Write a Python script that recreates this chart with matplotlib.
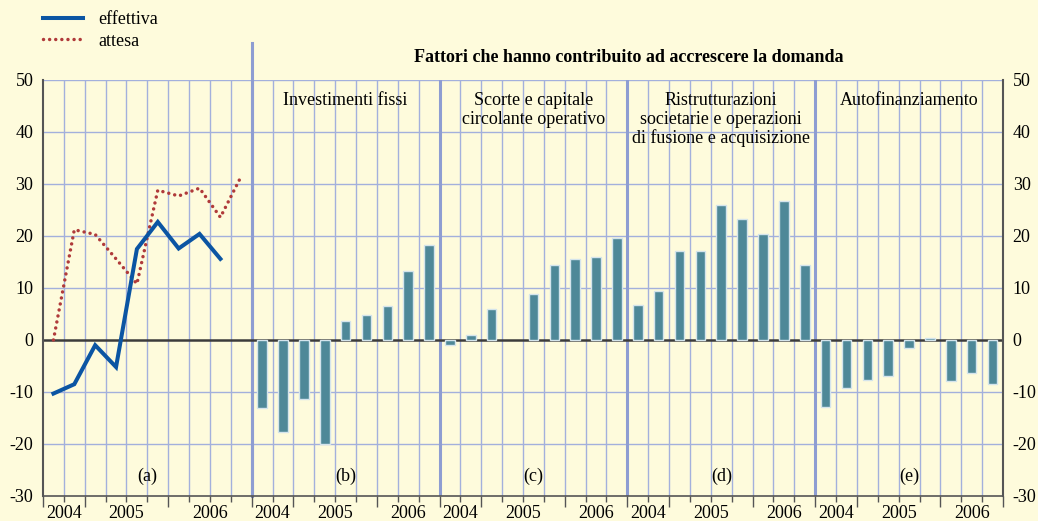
import matplotlib.pyplot as plt
from matplotlib.ticker import FixedLocator

# dati
effettiva = [-10.3, -8.5, -1.0, -5.2, 17.5, 22.7, 17.6, 20.4, 15.6]
attesa = [0.0, 21.2, 20.3, 15.6, 10.8, 28.8, 27.7, 29.2, 23.6, 31.5]

investimenti = [-13.0, -17.7, -11.4, -20.0, 3.6, 4.8, 6.5, 13.2, 18.3]
scorte = [-1.0, 1.0, 5.9, 0.0, 8.8, 14.5, 15.5, 16.0, 19.6]
ristrutturazioni = [6.8, 9.4, 17.1, 17.1, 25.9, 23.2, 20.4, 26.8, 14.4]
autofinanziamento = [-12.9, -9.3, -7.7, -7.0, -1.6, 0.3, -7.8, -6.3, -8.4]

panel_titles = ["Investimenti fissi",
                "Scorte e capitale\ncircolante operativo",
                "Ristrutturazioni\nsocietarie e operazioni\ndi fusione e acquisizione",
                "Autofinanziamento"]
panel_letters = ["(a)", "(b)", "(c)", "(d)", "(e)"]
years = ["2004", "2005", "2006"]

bg = '#fefbdc'
grid_c = '#a3b0dc'
sep_c = '#8e9dd2'
bar_c = '#4e8898'

plt.rcParams['font.family'] = ['Liberation Serif', 'DejaVu Serif']
plt.rcParams['font.size'] = 13
plt.rcParams['axes.unicode_minus'] = False

fig = plt.figure(figsize=(10.38, 5.21), dpi=100, facecolor=bg)
ax = fig.add_axes([43/1038, 1-496/521, 960/1038, 416/521])
ax.set_facecolor(bg)

# panel a: 10 trimestri, altri: 9
starts = [0, 10, 19, 28, 37]
widths = [10, 9, 9, 9, 9]
ax.set_xlim(0, 46)
ax.set_ylim(-30, 50)

# griglia
for x in range(1, 46):
    if x in starts:
        continue
    ax.axvline(x, color=grid_c, lw=1, zorder=1)
for y in range(-20, 51, 10):
    if y != 0:
        ax.axhline(y, color=grid_c, lw=1, zorder=1)
for s in starts[1:]:
    ax.axvline(s, color=sep_c, lw=2.2, zorder=1)
ax.plot([10, 10], [-30, 57.2], color=sep_c, lw=2.2, clip_on=False, zorder=1)
ax.axhline(0, color='#3c3c3c', lw=1.8, zorder=2)

# linee panel a
xa = [i + 0.5 for i in range(len(effettiva))]
xb = [i + 0.5 for i in range(len(attesa))]
l1, = ax.plot(xa, effettiva, color='#0b55a3', lw=2.9, zorder=4,
              solid_joinstyle='miter', label='effettiva')
l2, = ax.plot(xb, attesa, color='#b03a3a', lw=2.5, linestyle=(0, (0.01, 1.75)),
              dash_capstyle='round', zorder=3, label='attesa')

# barre
for s, vals in zip(starts[1:], [investimenti, scorte, ristrutturazioni, autofinanziamento]):
    xs = [s + i + 0.5 for i in range(len(vals)) if vals[i] != 0]
    vv = [v for v in vals if v != 0]
    ax.bar(xs, vv, width=0.46, color=bar_c, edgecolor='#d4e4ec', lw=1, zorder=3)

# testi
for s, w, t in zip(starts[1:], widths[1:], panel_titles):
    ax.text(s + w/2, 47.6, t, ha='center', va='top', linespacing=1.08, zorder=5)
for s, w, t in zip(starts, widths, panel_letters):
    ax.text(s + w/2, -26.3, t, ha='center', va='center', zorder=5)
for s, w in zip(starts, widths):
    for xc, yr in zip([s + 1, s + 4, s + 2 + (w - 2 - 4)/2 + 4], years):
        ax.text(xc, -33.4, yr, ha='center', va='center')

fig.text(629/1038, 1-58/521, "Fattori che hanno contribuito ad accrescere la domanda",
         ha='center', va='center', fontweight='bold')

# assi
ax.set_yticks(range(-30, 51, 10))
ax.tick_params(axis='y', length=0, pad=7, labelright=True, labelsize=13)
ax.set_xticks([])
major = sorted(set(x for s, w in zip(starts, widths) for x in (s, s + 2, s + 6, s + w)))
ax.xaxis.set_major_locator(FixedLocator(major))
ax.xaxis.set_minor_locator(FixedLocator(range(0, 47)))
ax.tick_params(axis='x', which='major', length=8, color='#555555', width=1, labelbottom=False)
ax.tick_params(axis='x', which='minor', length=4, color='#555555', width=1)
for side in ['left', 'right', 'bottom']:
    ax.spines[side].set_color('#555555')
    ax.spines[side].set_linewidth(1.5)
ax.spines['bottom'].set_linewidth(1.2)
ax.spines['top'].set_visible(False)

fig.legend(handles=[l1, l2], loc='upper left', bbox_to_anchor=(43/1038, 1-11/521),
           frameon=False, handlelength=2.2, handletextpad=0.85, labelspacing=0.25,
           borderpad=0, borderaxespad=0, fontsize=13)

fig.savefig('out.png', dpi=100, facecolor=bg)
